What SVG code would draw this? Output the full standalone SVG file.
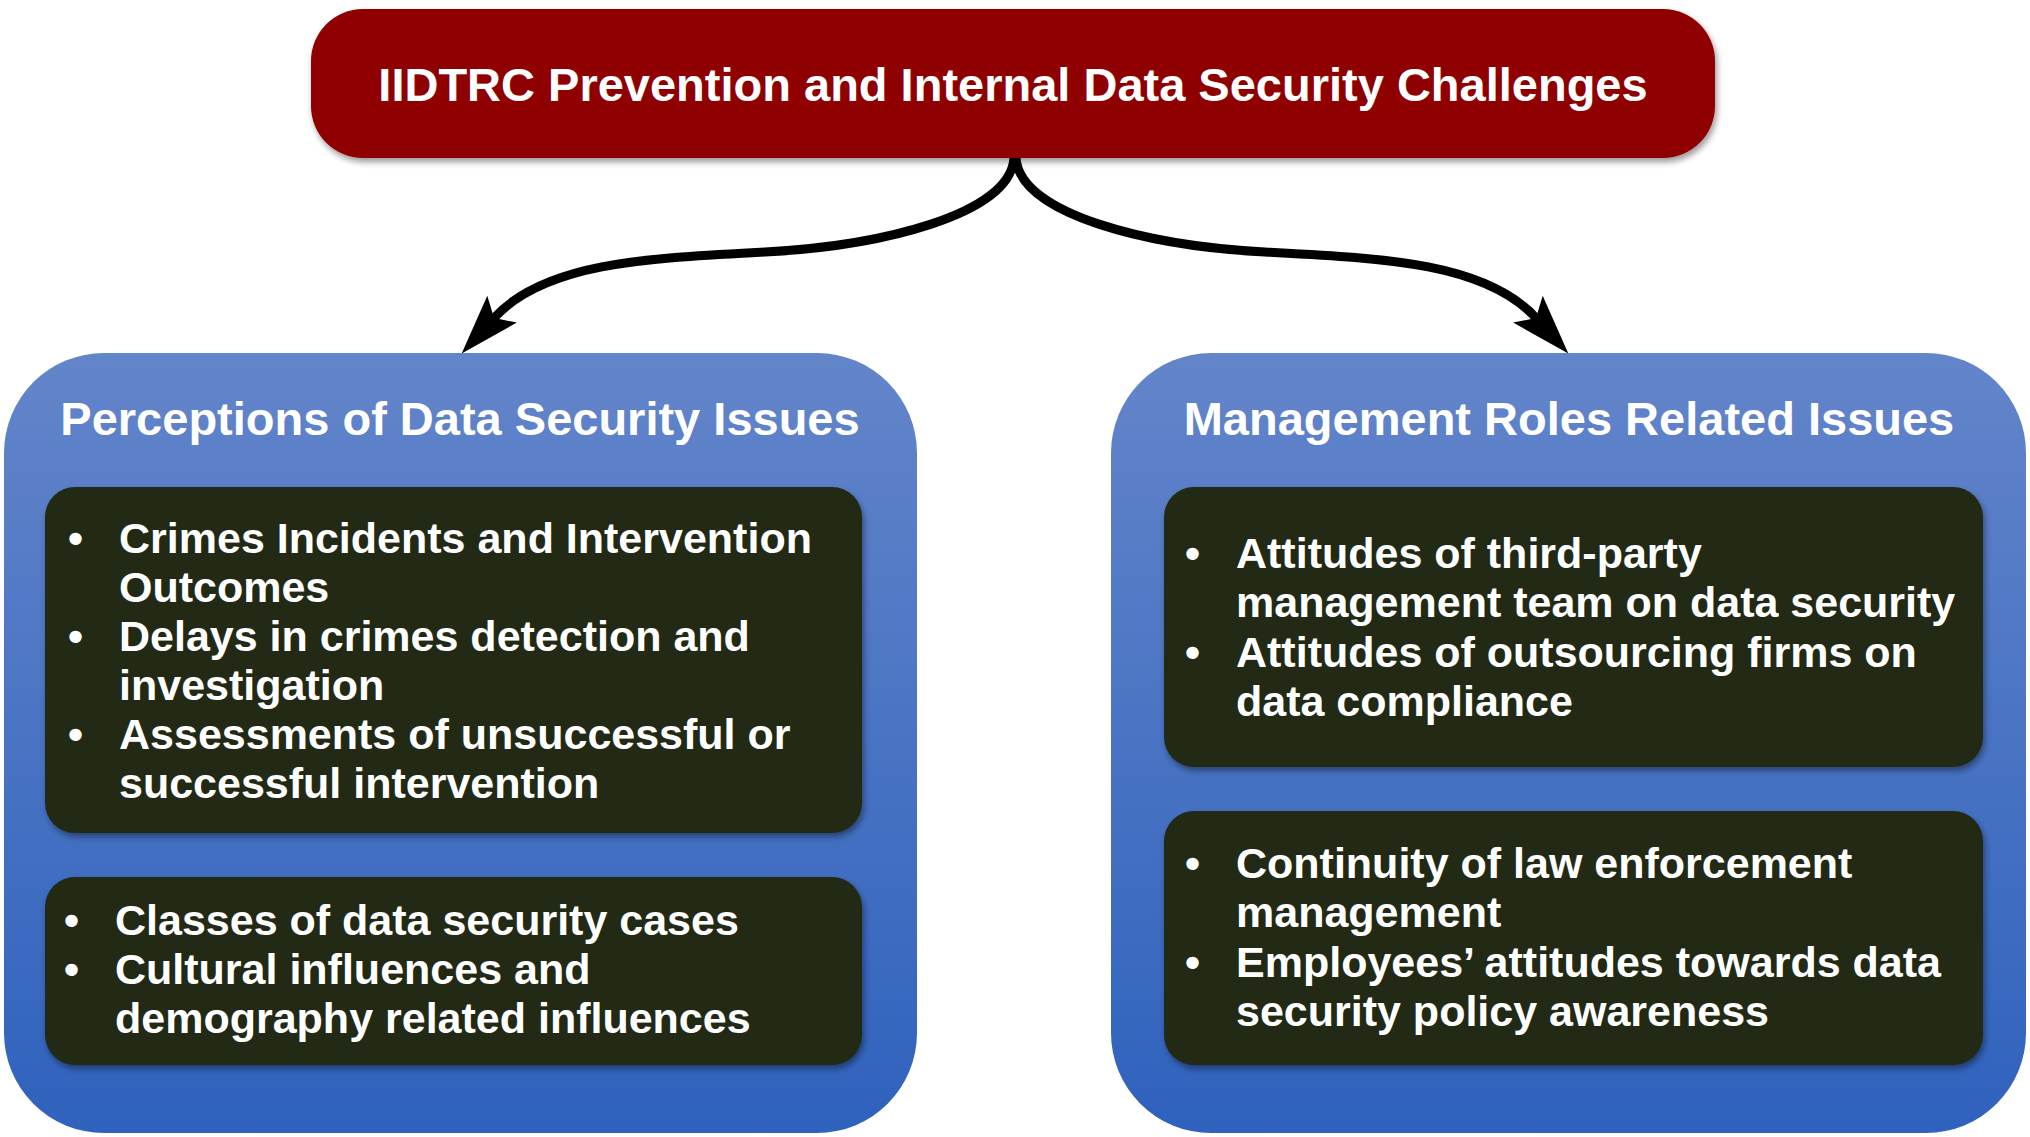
<svg xmlns="http://www.w3.org/2000/svg" width="2030" height="1137" viewBox="0 0 2030 1137">
<style>
  text { font-family: "Liberation Sans", Arial, sans-serif; font-weight: bold; fill: #ffffff; }
  .title { font-size: 47px; text-anchor: middle; }
  .head { font-size: 47px; text-anchor: middle; }
  .item { font-size: 43px; }
  .panel { fill: url(#blueGrad); }
  .inner { fill: #202a15; filter: url(#shadow); }
  .conn { fill: none; stroke: #000000; stroke-width: 9; }
</style>
<defs>
  <linearGradient id="blueGrad" x1="0" y1="0" x2="0" y2="1">
    <stop offset="0" stop-color="#6385ca"/>
    <stop offset="1" stop-color="#2f62bd"/>
  </linearGradient>
  <filter id="shadow" x="-10%" y="-10%" width="120%" height="130%">
    <feDropShadow dx="2" dy="4" stdDeviation="3" flood-color="#000000" flood-opacity="0.4"/>
  </filter>
  <marker id="arrow" markerUnits="userSpaceOnUse" markerWidth="70" markerHeight="50" viewBox="0 -25 70 50" refX="12" refY="0" orient="auto">
    <path d="M0,-20 L60,0 L0,20 L12,0 Z" fill="#000000"/>
  </marker>
</defs>
<rect width="2030" height="1137" fill="#ffffff"/>

<g id="title-node">
  <rect x="311" y="9" width="1404" height="149" rx="52" ry="52" fill="#8f0000" filter="url(#shadow)"/>
  <text class="title" x="1013" y="101">IIDTRC Prevention and Internal Data Security Challenges</text>
</g>

<g id="connectors">
  <path class="conn" d="M1014,158 C1010,215 880,246 765,252 C650,258 545,262 494,318" marker-end="url(#arrow)"/>
  <path class="conn" d="M1016,158 C1020,215 1150,246 1265,252 C1380,258 1485,262 1536,318" marker-end="url(#arrow)"/>
</g>

<g id="perceptions-node">
  <rect class="panel" x="4" y="353" width="913" height="780" rx="100" ry="100"/>
  <text class="head" x="460" y="435">Perceptions of Data Security Issues</text>
</g>

<g id="perceptions-list-1">
  <rect class="inner" x="45" y="487" width="817" height="346" rx="30" ry="30"/>
  <text class="item" x="68" y="553">•</text>
  <text class="item" x="119" y="553">Crimes Incidents and Intervention</text>
  <text class="item" x="119" y="602">Outcomes</text>
  <text class="item" x="68" y="651">•</text>
  <text class="item" x="119" y="651">Delays in crimes detection and</text>
  <text class="item" x="119" y="700">investigation</text>
  <text class="item" x="68" y="749">•</text>
  <text class="item" x="119" y="749">Assessments of unsuccessful or</text>
  <text class="item" x="119" y="798">successful intervention</text>
</g>

<g id="perceptions-list-2">
  <rect class="inner" x="45" y="877" width="817" height="188" rx="30" ry="30"/>
  <text class="item" x="64" y="935">•</text>
  <text class="item" x="115" y="935">Classes of data security cases</text>
  <text class="item" x="64" y="984">•</text>
  <text class="item" x="115" y="984">Cultural influences and</text>
  <text class="item" x="115" y="1033">demography related influences</text>
</g>

<g id="management-node">
  <rect class="panel" x="1111" y="353" width="915" height="780" rx="100" ry="100"/>
  <text class="head" x="1569" y="435">Management Roles Related Issues</text>
</g>

<g id="management-list-1">
  <rect class="inner" x="1164" y="487" width="819" height="280" rx="30" ry="30"/>
  <text class="item" x="1185" y="568">•</text>
  <text class="item" x="1236" y="568">Attitudes of third-party</text>
  <text class="item" x="1236" y="617">management team on data security</text>
  <text class="item" x="1185" y="667">•</text>
  <text class="item" x="1236" y="667">Attitudes of outsourcing firms on</text>
  <text class="item" x="1236" y="716">data compliance</text>
</g>

<g id="management-list-2">
  <rect class="inner" x="1164" y="811" width="819" height="254" rx="30" ry="30"/>
  <text class="item" x="1185" y="878">•</text>
  <text class="item" x="1236" y="878">Continuity of law enforcement</text>
  <text class="item" x="1236" y="927">management</text>
  <text class="item" x="1185" y="977">•</text>
  <text class="item" x="1236" y="977">Employees’ attitudes towards data</text>
  <text class="item" x="1236" y="1026">security policy awareness</text>
</g>
</svg>
